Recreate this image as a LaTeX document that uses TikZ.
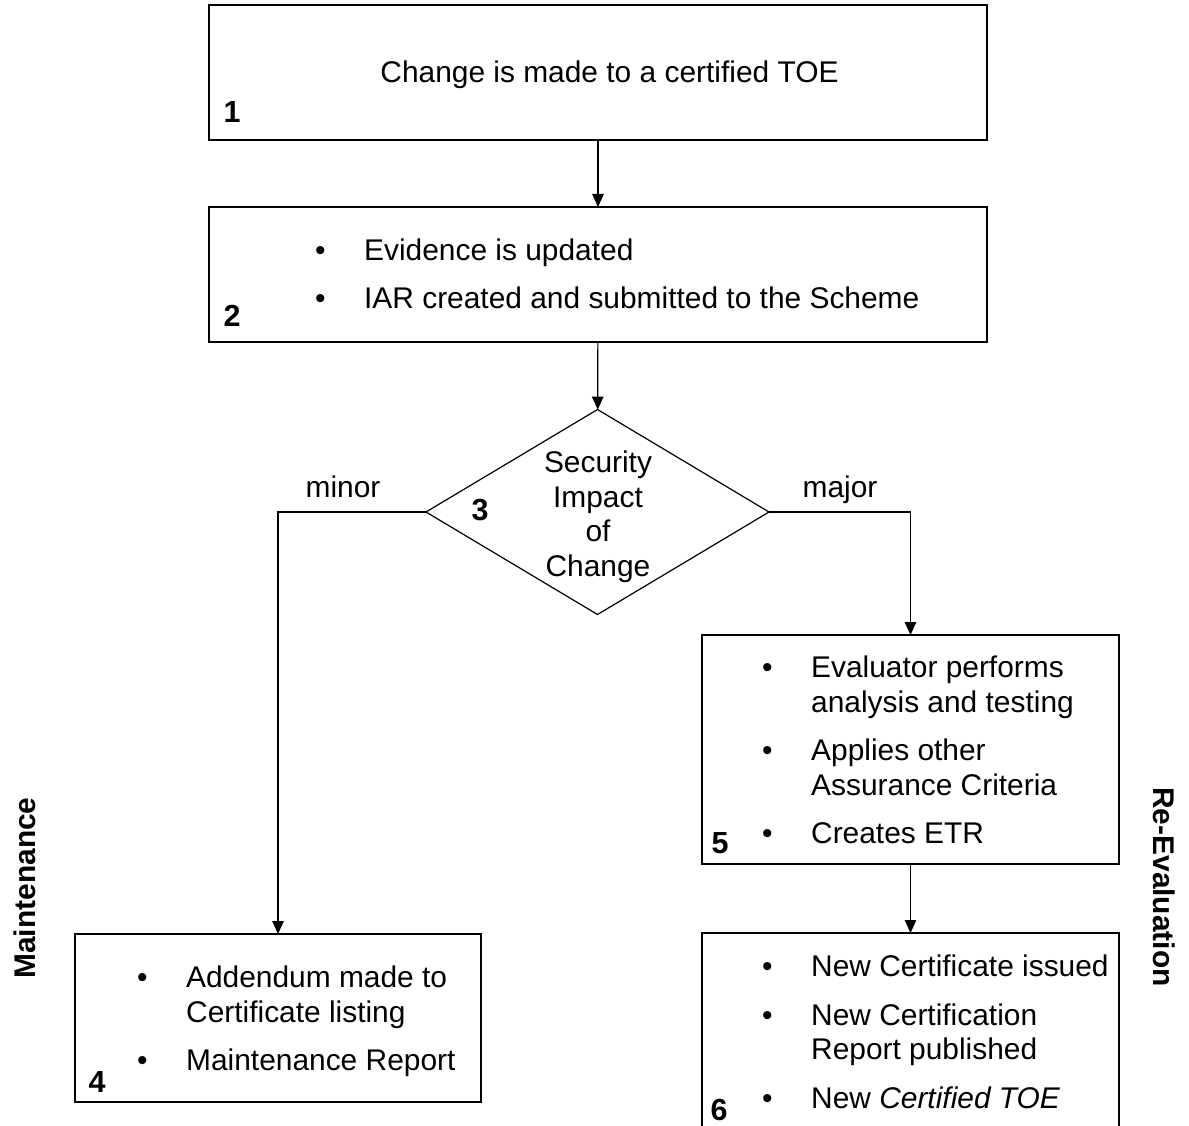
\documentclass[tikz,border=0pt]{standalone}
\usepackage{fontspec}
\setmainfont{Liberation Sans}
\usetikzlibrary{shapes.geometric, arrows.meta, positioning}

\newcommand{\bul}{\makebox[49pt][l]{\textbullet}}
\newcommand{\ind}{\hspace*{49pt}}

\tikzset{
    stepbox/.style={draw, line width=1.2pt, inner sep=0pt, outer sep=0pt},
    decision/.style={draw, diamond, line width=1.2pt, inner sep=0pt, outer sep=0pt,
        minimum width=343pt, minimum height=205pt},
    flow/.style={line width=1.2pt, -{Triangle[length=13pt,width=11.5pt]}},
    bullets/.style={anchor=base west, inner sep=0pt},
    num/.style={anchor=base, inner sep=0pt, font=\fontsize{30.5}{34.5}\selectfont\bfseries},
    side/.style={inner sep=0pt, font=\fontsize{29.9}{34.5}\selectfont\bfseries}
}

\begin{document}
\begin{tikzpicture}[x=1pt, y=-1pt, font=\fontsize{29.9}{34.5}\selectfont]
    \useasboundingbox (0,0) rectangle (1189,1126);

    % Boxes
    \node[stepbox, minimum width=778pt, minimum height=135pt] (change) at (598,72.5) {};
    \node[stepbox, minimum width=778pt, minimum height=135pt] (evidence) at (598,274.5) {};
    \node[decision] (impact) at (597.5,512) {};
    \node[stepbox, minimum width=406pt, minimum height=168pt] (maint) at (278,1018) {};
    \node[stepbox, minimum width=417pt, minimum height=229pt] (reeval) at (910.5,749.5) {};
    \node[stepbox, minimum width=417pt, minimum height=217pt] (newcert) at (910.5,1041.5) {};

    % Box texts
    \node[anchor=base, inner sep=0pt] (changetxt) at (609.5,82.5) {Change is made to a certified TOE};
    \node[bullets] (evidencetxt) at (315,260.5) {\begin{tabular}[t]{@{}l@{}}
        \bul Evidence is updated\\[14pt]
        \bul IAR created and submitted to the Scheme
    \end{tabular}};
    \node[anchor=base, inner sep=0pt] (impacttxt) at (598,472.5) {\begin{tabular}[t]{@{}c@{}}
        Security\\ Impact\\ of\\ Change
    \end{tabular}};
    \node[bullets] (mainttxt) at (137,987.5) {\begin{tabular}[t]{@{}l@{}}
        \bul Addendum made to\\ \ind Certificate listing\\[14pt]
        \bul Maintenance Report
    \end{tabular}};
    \node[bullets] (reevaltxt) at (762,677.5) {\begin{tabular}[t]{@{}l@{}}
        \bul Evaluator performs\\ \ind analysis and testing\\[14pt]
        \bul Applies other\\ \ind Assurance Criteria\\[14pt]
        \bul Creates ETR
    \end{tabular}};
    \node[bullets] (newcerttxt) at (762,976.5) {\begin{tabular}[t]{@{}l@{}}
        \bul New Certificate issued\\[14pt]
        \bul New Certification\\ \ind Report published\\[14pt]
        \bul New \textit{Certified TOE}
    \end{tabular}};

    % Step numbers
    \node[num] (n1) at (232,122.5) {1};
    \node[num] (n2) at (232,326.5) {2};
    \node[num] (n3) at (480,520.5) {3};
    \node[num] (n4) at (97,1092.5) {4};
    \node[num] (n5) at (720,853.5) {5};
    \node[num] (n6) at (719,1120.5) {6};

    % Connectors
    \draw[flow] (change) -- (evidence);
    \draw[flow] (evidence) -- (impact);
    \draw[flow] (impact.west) -| (maint.north);
    \draw[flow] (impact.east) -| (reeval.north);
    \draw[flow] (reeval) -- (newcert);

    % Branch labels
    \node[anchor=base, inner sep=0pt] (minor) at (343,497) {minor};
    \node[anchor=base, inner sep=0pt] (major) at (840,497) {major};

    % Side labels
    \node[side, rotate=90] (maintlbl) at (25,888) {Maintenance};
    \node[side, rotate=-90] (reevallbl) at (1164,887) {Re-Evaluation};
\end{tikzpicture}
\end{document}
